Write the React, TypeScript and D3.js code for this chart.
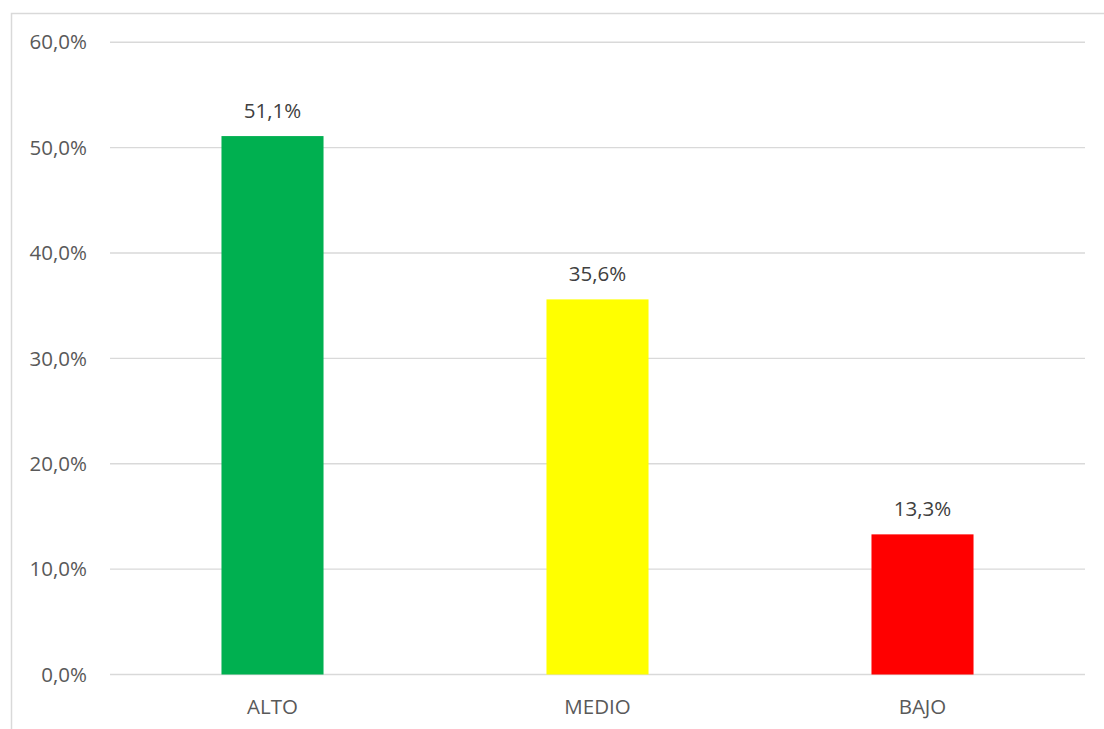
import React from "react";
import * as d3 from "d3";

const categories = ["ALTO", "MEDIO", "BAJO"];
const values = [51.1, 35.6, 13.3];
const barColors = ["#00B050", "#FFFF00", "#FF0000"];
const yTicks = [0, 10, 20, 30, 40, 50, 60];

const W = 1104;
const H = 729;

export default function App() {
  const x = d3.scaleBand<string>().domain(categories).range([110, 1085]).paddingInner(0.686).paddingOuter(0.343);
  const y = d3.scaleLinear().domain([0, 60]).range([674.5, 42.3]);
  const fmt = (v: number) => v.toFixed(1).replace(".", ",") + "%";
  const font = "'Open Sans', sans-serif";
  const fs = 20.5;
  return (
    <svg width={W} height={H} style={{ position: "absolute", left: 0, top: 0, background: "#fff" }}>
      <rect x={11.5} y={13.5} width={W + 20} height={H + 20} fill="#fff" stroke="#d9d9d9" strokeWidth={1.5} />
      {yTicks.map((t) => (
        <g key={t}>
          <line x1={110} x2={1085} y1={y(t)} y2={y(t)} stroke="#d9d9d9" strokeWidth={1.4} />
          <text x={87} y={y(t)} dy="0.35em" textAnchor="end" fill="#595959" fontFamily={font} fontSize={fs}>
            {fmt(t)}
          </text>
        </g>
      ))}
      {categories.map((c, i) => (
        <g key={c}>
          <rect x={x(c)} y={y(values[i])} width={x.bandwidth()} height={y(0) - y(values[i])} fill={barColors[i]} />
          <text x={(x(c) as number) + x.bandwidth() / 2} y={y(values[i]) - 18} textAnchor="middle" fill="#404040" fontFamily={font} fontSize={fs}>
            {fmt(values[i])}
          </text>
          <text x={(x(c) as number) + x.bandwidth() / 2} y={y(0) + 32} dy="0.35em" textAnchor="middle" fill="#595959" fontFamily={font} fontSize={fs}>
            {c}
          </text>
        </g>
      ))}
    </svg>
  );
}
